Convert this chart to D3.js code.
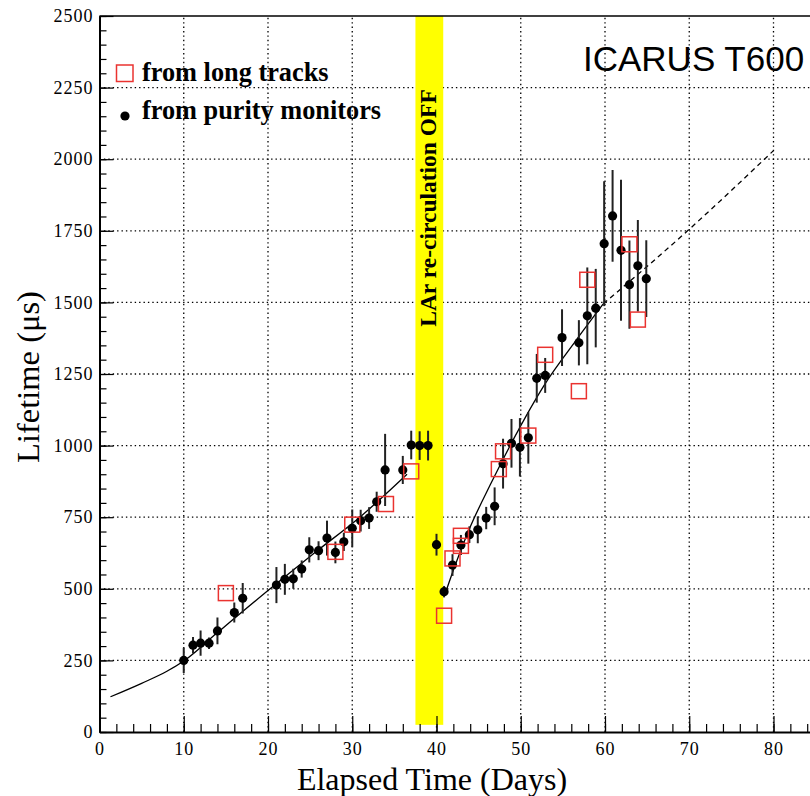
<!DOCTYPE html>
<html>
<head>
<meta charset="utf-8">
<script src="https://cdn.jsdelivr.net/npm/d3@7"></script>
<style>
body { margin: 0; background: #fff; }
svg { display: block; }
.axis .tick text { font-family: "Liberation Serif", "Times New Roman", serif; font-size: 18px; letter-spacing: 1px; fill: #000; }
.axis path, .axis line { stroke: #000; }
.grid line { stroke: #000; stroke-width: 1.3; stroke-dasharray: 1.4,3; }
</style>
</head>
<body>
<svg id="chart" width="810" height="796"></svg>
<script>
// purity monitor measurements (day, lifetime in us, error)
var pmDays = [10, 11.1, 12, 13, 14, 16, 17, 21, 22, 23, 24, 24.9, 26, 27, 28, 29, 30, 31, 32, 32.9, 33.9, 36, 37, 38, 39,
    40, 40.9, 41.9, 42.9, 43.9, 44.9, 45.9, 46.9, 47.9, 48.9, 49.9, 50.9, 51.9, 52.9, 54.9, 56.9, 57.9, 58.9, 59.9,
    60.9, 61.9, 62.9, 63.9, 64.9];
var pmLife = [250, 303, 310, 310, 353, 417, 467, 513, 533, 535, 569, 636, 633, 677, 627, 664, 711, 738, 747, 804, 915, 915, 1002, 1000, 1000,
    654, 490, 583, 653, 689, 706, 747, 788, 937, 1008, 994, 1027, 1235, 1245, 1377, 1359, 1453, 1480, 1705,
    1802, 1682, 1562, 1628, 1583];
var pmErr = [44, 29, 44, 20, 47, 35, 53, 63, 54, 35, 30, 44, 33, 61, 38, 32, 66, 38, 38, 35, 126, 49, 50, 50, 52,
    38, 20, 38, 35, 29, 47, 39, 66, 87, 85, 102, 90, 85, 61, 99, 79, 169, 137, 218,
    160, 246, 154, 160, 134];

// lifetime from long tracks
var ltDays = [15, 28, 30, 34, 37, 40.9, 41.9, 42.9, 42.9, 47.4, 47.9, 50.9, 52.9, 56.9, 57.9, 62.9, 63.9];
var ltLife = [485, 629, 724, 796, 910, 406, 606, 685, 650, 918, 980, 1035, 1317, 1190, 1579, 1703, 1440];

// fitted curves
var fit1Days = [1.3, 5, 8, 10, 14, 20.25, 25.5, 30.9, 36.5];
var fit1Life = [123, 170, 212, 248, 347, 500, 625, 750, 900];
var fit2Days = [40.9, 42, 43.9, 46.5, 48.95, 53, 56.5, 59.8];
var fit2Life = [472, 565, 709, 870, 1012, 1221, 1365, 1495];
var extDays = [59.8, 69.8, 80];
var extLife = [1495, 1750, 2030];

var offDays = [37.5, 40.8];   // recirculation stopped
var xTicks = [0, 10, 20, 30, 40, 50, 60, 70, 80];
var yTicks = [0, 250, 500, 750, 1000, 1250, 1500, 1750, 2000, 2250, 2500];

var svg = d3.select('#chart');
var padL = 99.5, padT = 16, padB = 732, padR = 810;

var x = d3.scaleLinear().domain([0, 90]).range([padL, padL + 90 * 8.425]);
var y = d3.scaleLinear().domain([0, 2500]).range([padB, padT]);

svg.append('defs').append('clipPath').attr('id', 'plot')
    .append('rect').attr('x', padL).attr('y', padT).attr('width', padR - padL).attr('height', padB - padT);

// grid
var grid = svg.append('g').attr('class', 'grid');
grid.selectAll('.gx').data(xTicks.slice(1)).enter().append('line')
    .attr('x1', function(d) { return x(d); }).attr('x2', function(d) { return x(d); })
    .attr('y1', padB).attr('y2', padT);
grid.selectAll('.gy').data(yTicks.slice(1, -1)).enter().append('line')
    .attr('x1', padL).attr('x2', padR)
    .attr('y1', function(d) { return y(d); }).attr('y2', function(d) { return y(d); });

var plot = svg.append('g').attr('clip-path', 'url(#plot)');

// yellow band
plot.append('rect')
    .attr('x', x(offDays[0])).attr('width', x(offDays[1]) - x(offDays[0]))
    .attr('y', y(2500)).attr('height', y(25) - y(2500))
    .attr('fill', '#ffff00');

svg.append('text')
    .attr('transform', 'translate(436,208) rotate(-90)')
    .attr('text-anchor', 'middle')
    .style('font-family', '"Liberation Serif", "Times New Roman", serif')
    .style('font-weight', 'bold')
    .style('font-size', '23.5px')
    .text('LAr re-circulation OFF');

// fit lines
function curve(days, vals) {
    return d3.line().curve(d3.curveMonotoneX)
        .x(function(d) { return x(days[d]); })
        .y(function(d) { return y(vals[d]); })(d3.range(days.length));
}
plot.append('path').attr('d', curve(fit1Days, fit1Life))
    .attr('fill', 'none').attr('stroke', '#000').attr('stroke-width', 1.3);
plot.append('path').attr('d', curve(fit2Days, fit2Life))
    .attr('fill', 'none').attr('stroke', '#000').attr('stroke-width', 1.3);
plot.append('path').attr('d', curve(extDays, extLife))
    .attr('fill', 'none').attr('stroke', '#000').attr('stroke-width', 1.3)
    .attr('stroke-dasharray', '5,4');

// purity monitors
var idx = d3.range(pmDays.length);
plot.selectAll('.err').data(idx).enter().append('line')
    .attr('x1', function(i) { return x(pmDays[i]); }).attr('x2', function(i) { return x(pmDays[i]); })
    .attr('y1', function(i) { return y(pmLife[i] - pmErr[i]); })
    .attr('y2', function(i) { return y(pmLife[i] + pmErr[i]); })
    .attr('stroke', '#222').attr('stroke-width', 2);
plot.selectAll('.pm').data(idx).enter().append('circle')
    .attr('cx', function(i) { return x(pmDays[i]); })
    .attr('cy', function(i) { return y(pmLife[i]); })
    .attr('r', 4.6).attr('fill', '#000');

// long tracks
var sq = 15;
plot.selectAll('.lt').data(d3.range(ltDays.length)).enter().append('rect')
    .attr('x', function(i) { return x(ltDays[i]) - sq / 2; })
    .attr('y', function(i) { return y(ltLife[i]) - sq / 2; })
    .attr('width', sq).attr('height', sq)
    .attr('fill', 'none').attr('stroke', '#ea3330').attr('stroke-width', 1.5);

// axes
var yAxis = svg.append('g').attr('class', 'axis').attr('transform', 'translate(' + padL + ',0)');
yAxis.call(d3.axisLeft(y).tickValues(d3.range(0, 2501, 50)).tickSizeInner(-7).tickSizeOuter(0).tickFormat(''));
yAxis.selectAll('.tick line').attr('stroke-width', 1.2);
var yMajor = svg.append('g').attr('class', 'axis').attr('transform', 'translate(' + padL + ',0)');
yMajor.call(d3.axisLeft(y).tickValues(yTicks).tickSizeInner(-14).tickSizeOuter(0).tickPadding(6).tickFormat(d3.format('d')));
yMajor.select('.domain').attr('stroke-width', 2);
yMajor.selectAll('.tick line').attr('stroke-width', 1.2);

var xAxis = svg.append('g').attr('class', 'axis').attr('transform', 'translate(0,' + padB + ')');
xAxis.call(d3.axisBottom(x).tickValues(d3.range(0, 91, 2)).tickSizeInner(-8).tickSizeOuter(0).tickFormat(''));
xAxis.selectAll('.tick line').attr('stroke-width', 1.2);
var xMajor = svg.append('g').attr('class', 'axis').attr('transform', 'translate(0,' + padB + ')');
xMajor.call(d3.axisBottom(x).tickValues(xTicks).tickSizeInner(-16).tickSizeOuter(0).tickPadding(10).tickFormat(d3.format('d')));
xMajor.select('.domain').attr('stroke-width', 2);
xMajor.selectAll('.tick line').attr('stroke-width', 1.2);

// top frame
svg.append('line').attr('x1', padL).attr('x2', padR).attr('y1', padT).attr('y2', padT)
    .attr('stroke', '#000').attr('stroke-width', 1.6);

// titles
var serif = '"Liberation Serif", "Times New Roman", serif';
svg.append('text')
    .attr('x', 432).attr('y', 790).attr('text-anchor', 'middle')
    .style('font-family', serif).style('font-size', '32px')
    .text('Elapsed Time (Days)');
svg.append('text')
    .attr('transform', 'translate(39,377) rotate(-90)').attr('text-anchor', 'middle')
    .style('font-family', serif).style('font-size', '32.5px')
    .text('Lifetime (μs)');
svg.append('text')
    .attr('x', 583).attr('y', 71)
    .style('font-family', '"Liberation Sans", Arial, sans-serif').style('font-size', '35px')
    .text('ICARUS T600');

// legend
var legend = svg.append('g')
    .style('font-family', serif).style('font-weight', 'bold').style('font-size', '26.3px');
legend.append('rect').attr('x', 116.5).attr('y', 65).attr('width', 16.5).attr('height', 16.5)
    .attr('fill', 'none').attr('stroke', '#ea3330').attr('stroke-width', 1.5);
legend.append('text').attr('x', 142).attr('y', 81).text('from long tracks');
legend.append('circle').attr('cx', 125).attr('cy', 116).attr('r', 4.6).attr('fill', '#000');
legend.append('text').attr('x', 142).attr('y', 119).text('from purity monitors');
</script>
</body>
</html>
